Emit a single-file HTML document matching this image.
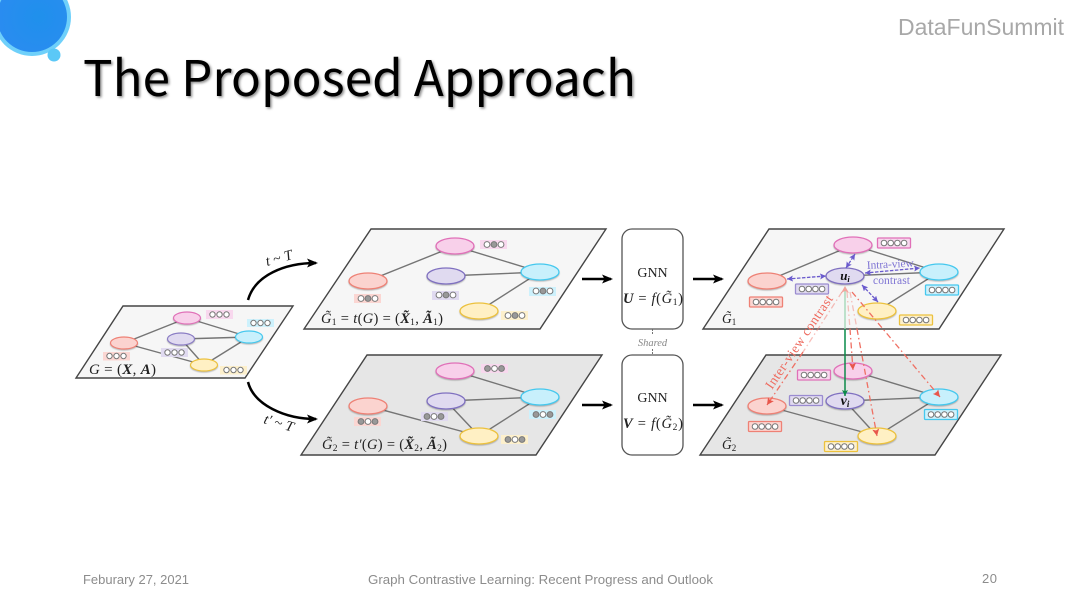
<!DOCTYPE html>
<html><head><meta charset="utf-8"><style>
html,body{margin:0;padding:0;background:#fff;width:1080px;height:608px;overflow:hidden}
svg{display:block}
text{font-family:"Liberation Serif",serif}
.m{fill:#222}
.s{font-family:"Liberation Sans",sans-serif;fill:#8c8c8c;font-size:13px}
.e{stroke:#747474;stroke-width:1.4;fill:none}
ellipse{filter:drop-shadow(0 1px .6px rgba(0,0,0,.25))}
.o{fill:#fff;stroke:#777;stroke-width:1}
.d{fill:#999;stroke:#777;stroke-width:1}
.p{stroke:#444;stroke-width:1.4}
.g{fill:#fff;stroke:#555;stroke-width:1.3}
.t{stroke-width:1.3}
.pu{stroke:#6a5acd;stroke-width:1.3;stroke-dasharray:3.5 1.5;fill:none;marker-start:url(#pa);marker-end:url(#pb)}
.r{stroke:#ef6f63;stroke-width:1.3;stroke-dasharray:6 3 1.5 3;fill:none;marker-end:url(#ra)}
</style></head><body>
<svg width="1080" height="608" viewBox="0 0 1080 608" xmlns="http://www.w3.org/2000/svg">
<defs>
<marker id="ah" markerWidth="11" markerHeight="9" refX="9" refY="4.500" orient="auto" markerUnits="userSpaceOnUse" viewBox="0 0 11 9"><path d="M0 0L11 4.500L0 9L2.500 4.500Z" fill="#000"/></marker>
<marker id="pb" markerWidth="6" markerHeight="6" refX="5" refY="2.500" orient="auto" markerUnits="userSpaceOnUse" viewBox="0 0 5 5"><path d="M0 0L5 2.500L0 5L1 2.500Z" fill="#6a5acd"/></marker>
<marker id="pa" markerWidth="6" markerHeight="6" refX="0" refY="2.500" orient="auto" markerUnits="userSpaceOnUse" viewBox="0 0 5 5"><path d="M5 0L0 2.500L5 5L4 2.500Z" fill="#6a5acd"/></marker>
<marker id="ra" markerWidth="7" markerHeight="7" refX="6" refY="3" orient="auto" markerUnits="userSpaceOnUse" viewBox="0 0 6 6"><path d="M0 0L6 3L0 6L1.200 3Z" fill="#e8574c"/></marker>
<marker id="ga" markerWidth="6" markerHeight="6" refX="5" refY="2.500" orient="auto" markerUnits="userSpaceOnUse" viewBox="0 0 5 5"><path d="M0 0L5 2.500L0 5L1 2.500Z" fill="#0d8a4a"/></marker>
<filter id="b" x="-10%" y="-10%" width="120%" height="120%"><feGaussianBlur stdDeviation=".32"/></filter>
<filter id="ts" x="-5%" y="-20%" width="110%" height="140%"><feDropShadow dx="1.500" dy="1.500" stdDeviation="1.200" flood-color="#000" flood-opacity=".45"/></filter>
<radialGradient id="bg" cx=".6" cy=".5" r=".6"><stop offset="0" stop-color="#1f90ec"/><stop offset="1" stop-color="#2a8cf0"/></radialGradient>
</defs>

<!-- corner -->
<circle cx="32" cy="17" r="39" fill="#6fd0fa"/>
<circle cx="32" cy="17" r="35" fill="url(#bg)"/>
<circle cx="54" cy="55" r="6.500" fill="#5bc8f7"/>

<text x="83" y="96" font-size="49" textLength="553" lengthAdjust="spacingAndGlyphs" style='font-family:"Noto Sans CJK JP","Liberation Sans",sans-serif' fill="#000" filter="url(#ts)">The Proposed Approach</text>
<text x="898" y="35" font-size="23" textLength="166" lengthAdjust="spacingAndGlyphs" style='font-family:"Liberation Sans",sans-serif' fill="#a8a8a8">DataFunSummit</text>

<g filter="url(#b)">
<!-- panels -->
<polygon class="p" points="123,306 293,306 245,378 76,378" fill="#f6f6f6"/>
<polygon class="p" points="371,229 606,229 540,329 304,329" fill="#f6f6f6"/>
<polygon class="p" points="367,355 602,355 536,455 301,455" fill="#e6e6e6"/>
<polygon class="p" points="769,229 1004,229 939,329 703,329" fill="#f6f6f6"/>
<polygon class="p" points="766,355 1001,355 935,455 700,455" fill="#e6e6e6"/>

<!-- panel 0 -->
<path class="e" d="M124 343L187 318M187 318L249 337M181 339L249 337M181 339L204 365M249 337L204 365M124 343L204 365"/>
<ellipse cx="187" cy="318" rx="13.500" ry="6" fill="#f8d0ea" stroke="#e070b8" stroke-width="1.200"/>
<ellipse cx="181" cy="339" rx="13.500" ry="6" fill="#e0daf0" stroke="#8a7cc4" stroke-width="1.200"/>
<ellipse cx="249" cy="337" rx="13.500" ry="6" fill="#c8f0fc" stroke="#45c8ee" stroke-width="1.200"/>
<ellipse cx="124" cy="343" rx="13.500" ry="6" fill="#fbd3cf" stroke="#ee8175" stroke-width="1.200"/>
<ellipse cx="204" cy="365" rx="13.500" ry="6" fill="#fff0c4" stroke="#ecc13e" stroke-width="1.200"/>
<rect x="206" y="310" width="27" height="9" fill="#f8d8ee"/>
<rect x="247" y="319" width="27" height="8" fill="#cdf1fc"/>
<rect x="103" y="352" width="27" height="8.500" fill="#fbd6d2"/>
<rect x="161" y="348" width="27" height="9" fill="#e0daf0"/>
<rect x="220" y="366" width="27" height="8.500" fill="#fdf0cc"/>
<g><circle class="o" cx="212.500" cy="314.500" r="2.700"/><circle class="o" cx="219.500" cy="314.500" r="2.700"/><circle class="o" cx="226.500" cy="314.500" r="2.700"/>
<circle class="o" cx="253.500" cy="323" r="2.700"/><circle class="o" cx="260.500" cy="323" r="2.700"/><circle class="o" cx="267.500" cy="323" r="2.700"/>
<circle class="o" cx="109.500" cy="356" r="2.700"/><circle class="o" cx="116.500" cy="356" r="2.700"/><circle class="o" cx="123.500" cy="356" r="2.700"/>
<circle class="o" cx="167.500" cy="352.500" r="2.700"/><circle class="o" cx="174.500" cy="352.500" r="2.700"/><circle class="o" cx="181.500" cy="352.500" r="2.700"/>
<circle class="o" cx="226.500" cy="370" r="2.700"/><circle class="o" cx="233.500" cy="370" r="2.700"/><circle class="o" cx="240.500" cy="370" r="2.700"/></g>
<text x="89" y="374" font-size="15" class="m" textLength="67"><tspan font-style="italic">G</tspan> = (<tspan font-weight="bold" font-style="italic">X</tspan>, <tspan font-weight="bold" font-style="italic">A</tspan>)</text>

<!-- panel 1 -->
<path class="e" d="M368 281L455 246M455 246L540 272M446 276L540 272M540 272L479 311"/>
<ellipse cx="455" cy="246" rx="19" ry="8" fill="#f8d0ea" stroke="#e070b8" stroke-width="1.300"/>
<ellipse cx="446" cy="276" rx="19" ry="8" fill="#e0daf0" stroke="#7f70c0" stroke-width="1.300"/>
<ellipse cx="540" cy="272" rx="19" ry="8" fill="#c8f0fc" stroke="#45c8ee" stroke-width="1.300"/>
<ellipse cx="368" cy="281" rx="19" ry="8" fill="#fbd3cf" stroke="#ee8175" stroke-width="1.300"/>
<ellipse cx="479" cy="311" rx="19" ry="8" fill="#fff0c4" stroke="#ecc13e" stroke-width="1.300"/>
<rect x="480" y="240" width="27" height="9" fill="#f8d8ee"/>
<rect x="432" y="291" width="27" height="9" fill="#e0daf0"/>
<rect x="529" y="287" width="27" height="9" fill="#cdf1fc"/>
<rect x="354" y="294" width="27" height="9" fill="#fbd6d2"/>
<rect x="501" y="311" width="27" height="9" fill="#fdf0cc"/>
<circle class="o" cx="487" cy="244.500" r="2.900"/><circle class="d" cx="494" cy="244.500" r="2.900"/><circle class="o" cx="501" cy="244.500" r="2.900"/>
<circle class="o" cx="439" cy="295" r="2.900"/><circle class="d" cx="446" cy="295" r="2.900"/><circle class="o" cx="453" cy="295" r="2.900"/>
<circle class="o" cx="536" cy="291" r="2.900"/><circle class="d" cx="543" cy="291" r="2.900"/><circle class="o" cx="550" cy="291" r="2.900"/>
<circle class="o" cx="361" cy="298.500" r="2.900"/><circle class="d" cx="368" cy="298.500" r="2.900"/><circle class="o" cx="375" cy="298.500" r="2.900"/>
<circle class="o" cx="508" cy="315.500" r="2.900"/><circle class="d" cx="515" cy="315.500" r="2.900"/><circle class="o" cx="522" cy="315.500" r="2.900"/>
<text x="321" y="323" font-size="14.500" class="m" textLength="122"><tspan font-style="italic">G̃</tspan><tspan font-size="9.500" dy="2">1</tspan><tspan dy="-2"> = </tspan><tspan font-style="italic">t</tspan>(<tspan font-style="italic">G</tspan>) = (<tspan font-weight="bold" font-style="italic">X̃</tspan><tspan font-size="9.500" dy="2">1</tspan><tspan dy="-2">, </tspan><tspan font-weight="bold" font-style="italic">Ã</tspan><tspan font-size="9.500" dy="2">1</tspan><tspan dy="-2">)</tspan></text>

<!-- panel 2 -->
<path class="e" d="M455 371L540 397M446 401L540 397M446 401L479 436M540 397L479 436M368 406L479 436"/>
<ellipse cx="455" cy="371" rx="19" ry="8" fill="#f8d0ea" stroke="#e070b8" stroke-width="1.300"/>
<ellipse cx="446" cy="401" rx="19" ry="8" fill="#e0daf0" stroke="#7f70c0" stroke-width="1.300"/>
<ellipse cx="540" cy="397" rx="19" ry="8" fill="#c8f0fc" stroke="#45c8ee" stroke-width="1.300"/>
<ellipse cx="368" cy="406" rx="19" ry="8" fill="#fbd3cf" stroke="#ee8175" stroke-width="1.300"/>
<ellipse cx="479" cy="436" rx="19" ry="8" fill="#fff0c4" stroke="#ecc13e" stroke-width="1.300"/>
<rect x="481" y="364" width="27" height="9" fill="#f8d8ee"/>
<rect x="421" y="412" width="27" height="9" fill="#e0daf0"/>
<rect x="529" y="410" width="27" height="9" fill="#cdf1fc"/>
<rect x="354" y="417" width="27" height="9" fill="#fbd6d2"/>
<rect x="501" y="435" width="27" height="9" fill="#fdf0cc"/>
<circle class="d" cx="487.500" cy="368.500" r="2.900"/><circle class="o" cx="494.500" cy="368.500" r="2.900"/><circle class="d" cx="501.500" cy="368.500" r="2.900"/>
<circle class="d" cx="427" cy="416.500" r="2.900"/><circle class="o" cx="434" cy="416.500" r="2.900"/><circle class="d" cx="441" cy="416.500" r="2.900"/>
<circle class="d" cx="536" cy="414.500" r="2.900"/><circle class="o" cx="543" cy="414.500" r="2.900"/><circle class="d" cx="550" cy="414.500" r="2.900"/>
<circle class="d" cx="361" cy="421.500" r="2.900"/><circle class="o" cx="368" cy="421.500" r="2.900"/><circle class="d" cx="375" cy="421.500" r="2.900"/>
<circle class="d" cx="508" cy="439.500" r="2.900"/><circle class="o" cx="515" cy="439.500" r="2.900"/><circle class="d" cx="522" cy="439.500" r="2.900"/>
<text x="322" y="449" font-size="14.500" class="m" textLength="125"><tspan font-style="italic">G̃</tspan><tspan font-size="9.500" dy="2">2</tspan><tspan dy="-2"> = </tspan><tspan font-style="italic">t′</tspan>(<tspan font-style="italic">G</tspan>) = (<tspan font-weight="bold" font-style="italic">X̃</tspan><tspan font-size="9.500" dy="2">2</tspan><tspan dy="-2">, </tspan><tspan font-weight="bold" font-style="italic">Ã</tspan><tspan font-size="9.500" dy="2">2</tspan><tspan dy="-2">)</tspan></text>

<!-- GNN -->
<rect class="g" x="622" y="229" width="61" height="100" rx="10"/>
<rect class="g" x="622" y="355" width="61" height="100" rx="10"/>
<path d="M652.500 329V335M652.500 349V355" stroke="#666" stroke-width=".9" stroke-dasharray="2 1"/>
<text x="652.500" y="346" font-size="10.500" font-style="italic" fill="#888" text-anchor="middle">Shared</text>
<text x="652.500" y="277" font-size="14" class="m" text-anchor="middle">GNN</text>
<text x="623" y="303" font-size="14.500" class="m" textLength="60"><tspan font-weight="bold" font-style="italic">U</tspan> = <tspan font-style="italic">f</tspan>(<tspan font-style="italic">G̃</tspan><tspan font-size="9.500" dy="2">1</tspan><tspan dy="-2">)</tspan></text>
<text x="652.500" y="402" font-size="14" class="m" text-anchor="middle">GNN</text>
<text x="623" y="428" font-size="14.500" class="m" textLength="60"><tspan font-weight="bold" font-style="italic">V</tspan> = <tspan font-style="italic">f</tspan>(<tspan font-style="italic">G̃</tspan><tspan font-size="9.500" dy="2">2</tspan><tspan dy="-2">)</tspan></text>

<!-- panel 3 -->
<path class="e" d="M767 281L853 245M853 245L939 272M845 276L939 272M939 272L877 311"/>
<ellipse cx="853" cy="245" rx="19" ry="8" fill="#f8d0ea" stroke="#e070b8" stroke-width="1.300"/>
<ellipse cx="845" cy="276" rx="19" ry="8" fill="#e0daf0" stroke="#7f70c0" stroke-width="1.300"/>
<ellipse cx="939" cy="272" rx="19" ry="8" fill="#c8f0fc" stroke="#45c8ee" stroke-width="1.300"/>
<ellipse cx="767" cy="281" rx="19" ry="8" fill="#fbd3cf" stroke="#ee8175" stroke-width="1.300"/>
<ellipse cx="877" cy="311" rx="19" ry="8" fill="#fff0c4" stroke="#ecc13e" stroke-width="1.300"/>
<rect class="t" x="877.500" y="238" width="33" height="10" rx="1" fill="#f8d8ee" stroke="#e070b8"/>
<rect class="t" x="795.500" y="284" width="33" height="10" rx="1" fill="#e0daf0" stroke="#9a8cd0"/>
<rect class="t" x="925.500" y="285" width="33" height="10" rx="1" fill="#cdf1fc" stroke="#45c8ee"/>
<rect class="t" x="749.500" y="297" width="33" height="10" rx="1" fill="#fbd6d2" stroke="#ee8175"/>
<rect class="t" x="899.500" y="315" width="33" height="10" rx="1" fill="#fdf0cc" stroke="#ecc13e"/>
<circle class="o" cx="884" cy="243" r="2.800"/><circle class="o" cx="890.700" cy="243" r="2.800"/><circle class="o" cx="897.400" cy="243" r="2.800"/><circle class="o" cx="904.100" cy="243" r="2.800"/>
<circle class="o" cx="802" cy="289" r="2.800"/><circle class="o" cx="808.700" cy="289" r="2.800"/><circle class="o" cx="815.400" cy="289" r="2.800"/><circle class="o" cx="822.100" cy="289" r="2.800"/>
<circle class="o" cx="932" cy="290" r="2.800"/><circle class="o" cx="938.700" cy="290" r="2.800"/><circle class="o" cx="945.400" cy="290" r="2.800"/><circle class="o" cx="952.100" cy="290" r="2.800"/>
<circle class="o" cx="756" cy="302" r="2.800"/><circle class="o" cx="762.700" cy="302" r="2.800"/><circle class="o" cx="769.400" cy="302" r="2.800"/><circle class="o" cx="776.100" cy="302" r="2.800"/>
<circle class="o" cx="906" cy="320" r="2.800"/><circle class="o" cx="912.700" cy="320" r="2.800"/><circle class="o" cx="919.400" cy="320" r="2.800"/><circle class="o" cx="926.100" cy="320" r="2.800"/>
<text x="722" y="323" font-size="13.500" class="m"><tspan font-style="italic">G̃</tspan><tspan font-size="9" dy="2">1</tspan></text>
<text x="845" y="280" font-size="13" fill="#111" font-weight="bold" font-style="italic" text-anchor="middle">u<tspan font-size="8.500" dy="2">i</tspan></text>
<path class="pu" d="M787 279L826 276"/><path class="pu" d="M846 268L855 254"/><path class="pu" d="M865 273L920 268"/><path class="pu" d="M862 285L878 302"/>
<text x="867" y="269" font-size="11.500" fill="#7f74d4" textLength="47" transform="rotate(-3 867 269)">Intra-view</text>
<text x="873" y="284" font-size="11.500" fill="#7f74d4" textLength="37">contrast</text>

<!-- panel 4 -->
<path class="e" d="M853 371L939 397M845 401L939 397M845 401L877 436M939 397L877 436M767 406L877 436"/>
<ellipse cx="853" cy="371" rx="19" ry="8" fill="#f8d0ea" stroke="#e070b8" stroke-width="1.300"/>
<ellipse cx="845" cy="401" rx="19" ry="8" fill="#e0daf0" stroke="#7f70c0" stroke-width="1.300"/>
<ellipse cx="939" cy="397" rx="19" ry="8" fill="#c8f0fc" stroke="#45c8ee" stroke-width="1.300"/>
<ellipse cx="767" cy="406" rx="19" ry="8" fill="#fbd3cf" stroke="#ee8175" stroke-width="1.300"/>
<ellipse cx="877" cy="436" rx="19" ry="8" fill="#fff0c4" stroke="#ecc13e" stroke-width="1.300"/>
<rect class="t" x="797.500" y="370" width="33" height="10" rx="1" fill="#f8d8ee" stroke="#e070b8"/>
<rect class="t" x="789.500" y="395.500" width="33" height="10" rx="1" fill="#e0daf0" stroke="#9a8cd0"/>
<rect class="t" x="924.500" y="409.500" width="33" height="10" rx="1" fill="#cdf1fc" stroke="#45c8ee"/>
<rect class="t" x="748.500" y="421.500" width="33" height="10" rx="1" fill="#fbd6d2" stroke="#ee8175"/>
<rect class="t" x="824.500" y="441.500" width="33" height="10" rx="1" fill="#fdf0cc" stroke="#ecc13e"/>
<circle class="o" cx="804" cy="375" r="2.800"/><circle class="o" cx="810.700" cy="375" r="2.800"/><circle class="o" cx="817.400" cy="375" r="2.800"/><circle class="o" cx="824.100" cy="375" r="2.800"/>
<circle class="o" cx="796" cy="400.500" r="2.800"/><circle class="o" cx="802.700" cy="400.500" r="2.800"/><circle class="o" cx="809.400" cy="400.500" r="2.800"/><circle class="o" cx="816.100" cy="400.500" r="2.800"/>
<circle class="o" cx="931" cy="414.500" r="2.800"/><circle class="o" cx="937.700" cy="414.500" r="2.800"/><circle class="o" cx="944.400" cy="414.500" r="2.800"/><circle class="o" cx="951.100" cy="414.500" r="2.800"/>
<circle class="o" cx="755" cy="426.500" r="2.800"/><circle class="o" cx="761.700" cy="426.500" r="2.800"/><circle class="o" cx="768.400" cy="426.500" r="2.800"/><circle class="o" cx="775.100" cy="426.500" r="2.800"/>
<circle class="o" cx="831" cy="446.500" r="2.800"/><circle class="o" cx="837.700" cy="446.500" r="2.800"/><circle class="o" cx="844.400" cy="446.500" r="2.800"/><circle class="o" cx="851.100" cy="446.500" r="2.800"/>
<text x="722" y="449" font-size="13.500" class="m"><tspan font-style="italic">G̃</tspan><tspan font-size="9" dy="2">2</tspan></text>
<text x="845" y="405" font-size="14" fill="#111" font-weight="bold" font-style="italic" text-anchor="middle">v<tspan font-size="9" dy="2">i</tspan></text>

<!-- inter-view -->
<path d="M845 290V329" stroke="#9fd6b4" stroke-width="1.300"/>
<path d="M845 329V396" stroke="#0d8a4a" stroke-width="1.500" marker-end="url(#ga)"/>
<path d="M841 293L845 286L849 293L845 291Z" fill="#f2a49c"/>
<g opacity=".45"><path class="r" style="marker-end:none" d="M842 292L803 352"/></g>
<path class="r" d="M803 352L767 405"/>
<g opacity=".4"><path class="r" style="marker-end:none" d="M847 292L850 329"/><path class="r" style="marker-end:none" d="M850 292L857 329"/></g>
<path class="r" d="M850 329L853 370"/>
<path class="r" d="M857 329L877 436"/>
<path class="r" d="M852 292L940 397"/>
<text x="772" y="390" font-size="13.500" fill="#ee6a5e" textLength="110" transform="rotate(-56 772 390)">Inter-view contrast</text>
</g>

<!-- black arrows -->
<g fill="none" stroke="#000" stroke-width="2.500">
<path d="M248 300C255 275 285 263 316 263" marker-end="url(#ah)"/>
<path d="M248 382C254 405 285 419 316 419" marker-end="url(#ah)"/>
<path d="M582 279H611" marker-end="url(#ah)"/>
<path d="M582 405H611" marker-end="url(#ah)"/>
<path d="M693 279H722" marker-end="url(#ah)"/>
<path d="M693 405H722" marker-end="url(#ah)"/>
</g>
<text x="267" y="266" font-size="14.500" class="m" transform="rotate(-15 267 266)"><tspan font-style="italic">t</tspan> ~ <tspan font-style="italic">T</tspan></text>
<text x="263" y="423" font-size="14.500" class="m" transform="rotate(17 263 423)"><tspan font-style="italic">t′</tspan> ~ <tspan font-style="italic">T</tspan></text>

<!-- footer -->
<text class="s" x="83" y="584" textLength="106" lengthAdjust="spacingAndGlyphs">Feburary 27, 2021</text>
<text class="s" x="368" y="584" textLength="345" lengthAdjust="spacingAndGlyphs">Graph Contrastive Learning: Recent Progress and Outlook</text>
<text class="s" x="982" y="583" textLength="15">20</text>
</svg>
</body></html>
